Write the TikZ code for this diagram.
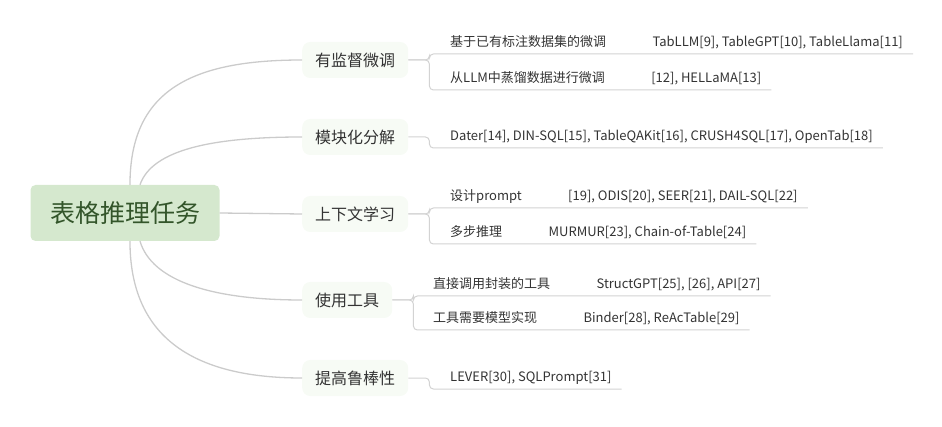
\documentclass[tikz,border=0pt]{standalone}
\usepackage{fontspec}
\newfontfamily\cjk{Noto Sans CJK SC}
\usepackage{xcolor}
\usetikzlibrary{positioning, calc}

\definecolor{rootfill}{HTML}{D5E8CE}
\definecolor{roottext}{HTML}{33552A}
\definecolor{topicfill}{HTML}{F7FBF5}
\definecolor{linkgray}{HTML}{CBCBCB}
\definecolor{textgray}{HTML}{333333}

\begin{document}
\begin{tikzpicture}[x=1pt, y=1pt,
  rootbox/.style={rectangle, rounded corners=5pt, fill=rootfill, text=roottext,
    minimum width=189pt, minimum height=56pt,
    font=\cjk\fontsize{25}{28}\selectfont},
  topicbox/.style={rectangle, rounded corners=8pt, fill=topicfill, text=textgray,
    anchor=west, minimum height=36pt, inner xsep=13pt,
    font=\cjk\fontsize{16}{18}\selectfont},
  leafbox/.style={anchor=south west, inner xsep=0pt, inner ysep=4.5pt,
    text height=9pt, text depth=3pt, text=textgray,
    font=\cjk\fontsize{13}{15}\selectfont},
  link/.style={draw=linkgray, line width=1.3pt},
  uline/.style={draw=linkgray!85, line width=1pt, rounded corners=4pt}
]
\useasboundingbox (0,0) rectangle (942,-427);

%% ==== Root ====
\node[rootbox] (root) at (125,-213) {表格推理任务};

%% ==== Main topics ====
\node[topicbox] (sft)  at (302,-60)  {有监督微调};
\node[topicbox] (mod)  at (302,-137) {模块化分解};
\node[topicbox] (icl)  at (302,-214) {上下文学习};
\node[topicbox] (tool) at (302,-300) {使用工具};
\node[topicbox] (rob)  at (302,-378) {提高鲁棒性};

%% ==== Root curves ====
\draw[link] (root.80)  .. controls +(0,95)   and +(-110,0) .. (sft.west);
\draw[link] (root.62)  .. controls +(12,35)  and +(-90,0)  .. (mod.west);
\draw[link] (root.east) -- (icl.west);
\draw[link] (root.-62) .. controls +(12,-40) and +(-90,0)  .. (tool.west);
\draw[link] (root.-80) .. controls +(0,-95)  and +(-110,0) .. (rob.west);

%% ==== Leaves ====
\node[leafbox] (a11) at (450,-54) {基于已有标注数据集的微调};
\node[leafbox, right=46pt of a11] (r11) {TabLLM[9], TableGPT[10], TableLlama[11]};
\node[leafbox] (a12) at (450,-90) {从LLM中蒸馏数据进行微调};
\node[leafbox, right=46pt of a12] (r12) {[12], HELLaMA[13]};

\node[leafbox] (r21) at (450,-148) {Dater[14], DIN-SQL[15], TableQAKit[16], CRUSH4SQL[17], OpenTab[18]};

\node[leafbox] (a31) at (450,-208) {设计prompt};
\node[leafbox, right=46pt of a31] (r31) {[19], ODIS[20], SEER[21], DAIL-SQL[22]};
\node[leafbox] (a32) at (450,-244) {多步推理};
\node[leafbox, right=46pt of a32] (r32) {MURMUR[23], Chain-of-Table[24]};

\node[leafbox] (a41) at (433,-296) {直接调用封装的工具};
\node[leafbox, right=46pt of a41] (r41) {StructGPT[25], [26], API[27]};
\node[leafbox] (a42) at (433,-330) {工具需要模型实现};
\node[leafbox, right=46pt of a42] (r42) {Binder[28], ReAcTable[29]};

\node[leafbox] (r51) at (450,-389) {LEVER[30], SQLPrompt[31]};

%% ==== Brackets + underlines ====
\foreach \p/\r in {sft/r11, sft/r12, mod/r21, icl/r31, icl/r32,
                   tool/r41, tool/r42, rob/r51}
  \draw[uline] (\p.east) -- ([xshift=21pt]\p.east) |- ([xshift=10pt]\r.south east);

\end{tikzpicture}
\end{document}
